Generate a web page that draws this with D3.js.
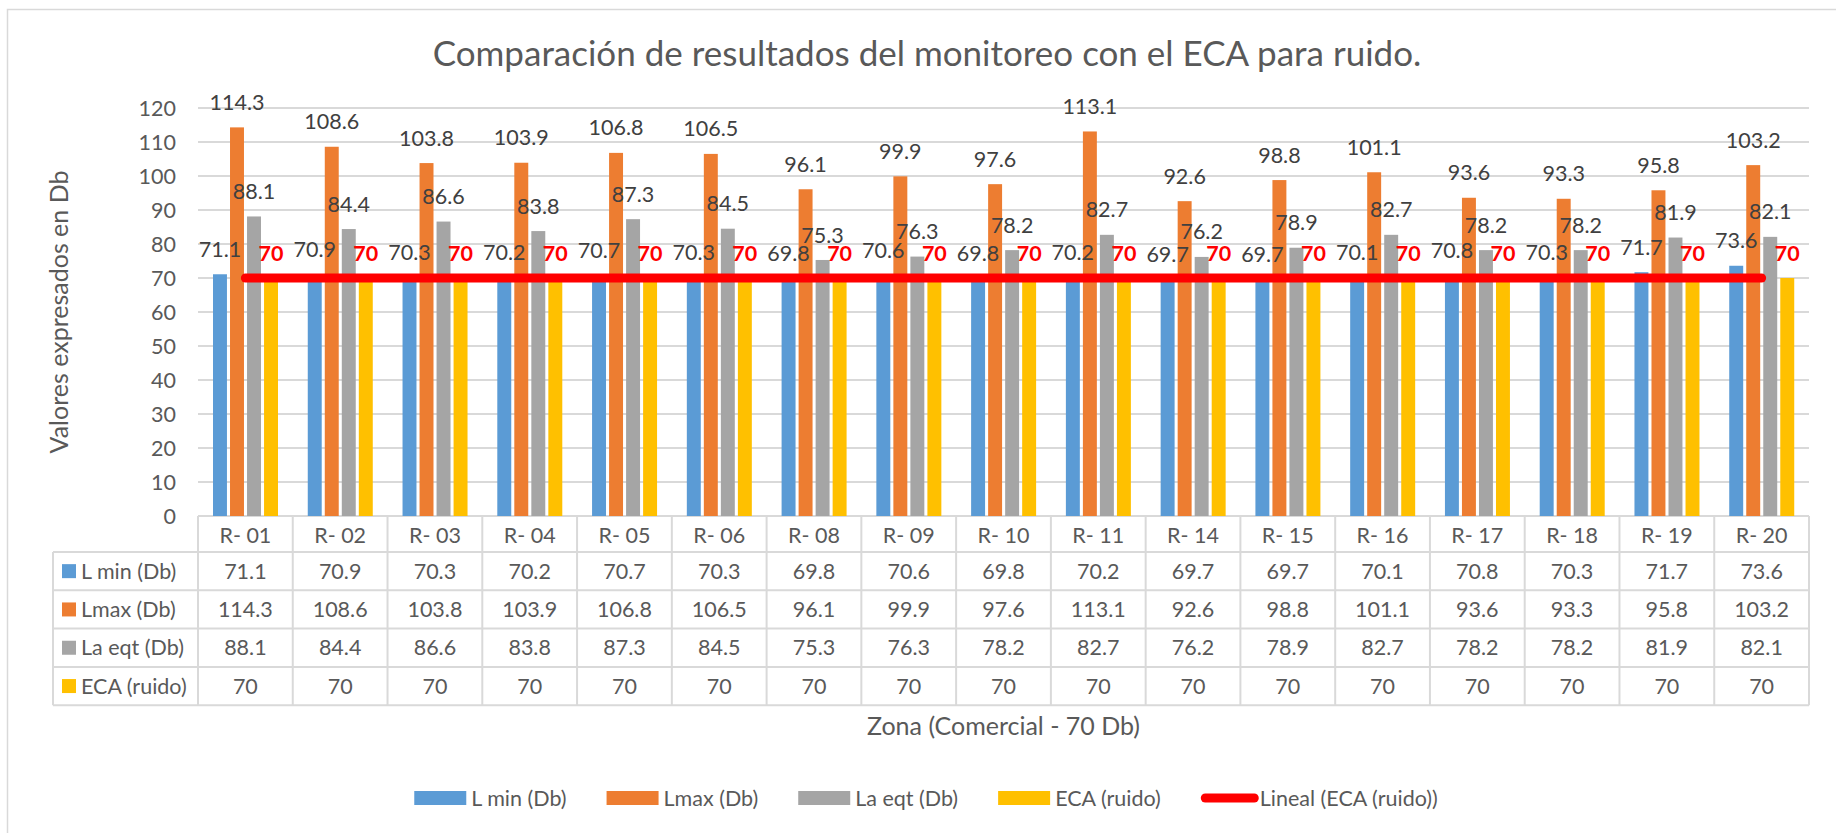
<!DOCTYPE html>
<html>
<head>
<meta charset="utf-8">
<script src="https://cdn.jsdelivr.net/npm/d3@7"></script>
<style>
  body { margin: 0; background: #fff; }
  svg { display: block; font-family: Lato, "Open Sans", sans-serif; }
</style>
</head>
<body>
<svg id="chart" width="1836" height="833"></svg>
<script>
const categories = ["R- 01", "R- 02", "R- 03", "R- 04", "R- 05", "R- 06", "R- 08", "R- 09", "R- 10",
                    "R- 11", "R- 14", "R- 15", "R- 16", "R- 17", "R- 18", "R- 19", "R- 20"]
const lmin  = [71.1, 70.9, 70.3, 70.2, 70.7, 70.3, 69.8, 70.6, 69.8, 70.2, 69.7, 69.7, 70.1, 70.8, 70.3, 71.7, 73.6]
const lmax  = [114.3, 108.6, 103.8, 103.9, 106.8, 106.5, 96.1, 99.9, 97.6, 113.1, 92.6, 98.8, 101.1, 93.6, 93.3, 95.8, 103.2]
const laeqt = [88.1, 84.4, 86.6, 83.8, 87.3, 84.5, 75.3, 76.3, 78.2, 82.7, 76.2, 78.9, 82.7, 78.2, 78.2, 81.9, 82.1]
const eca   = [70, 70, 70, 70, 70, 70, 70, 70, 70, 70, 70, 70, 70, 70, 70, 70, 70]
const seriesNames = ["L min (Db)", "Lmax (Db)", "La eqt (Db)", "ECA (ruido)"]
const yTicks = [0, 10, 20, 30, 40, 50, 60, 70, 80, 90, 100, 110, 120]

const series = [
  {name: seriesNames[0], values: lmin,  color: "#5B9BD5"},
  {name: seriesNames[1], values: lmax,  color: "#ED7D31"},
  {name: seriesNames[2], values: laeqt, color: "#A5A5A5"},
  {name: seriesNames[3], values: eca,   color: "#FFC000"},
]

const dims = {width: 1836, height: 833, left: 198, right: 1809, top: 108, bottom: 516}
const tableLeft = 53
const headerBottom = 552
const rowH = 38.3
const grid = "#D9D9D9"
const textGray = "#595959"
const fs = "21.5px"

const svg = d3.select("#chart")

// chart border (only left and top edges are in frame)
svg.append("rect")
  .attr("x", 7.5).attr("y", 9.5)
  .attr("width", 1900).attr("height", 900)
  .attr("fill", "none").attr("stroke", grid).attr("stroke-width", 1.5)

const x0 = d3.scaleBand().domain(categories).range([dims.left, dims.right])
const x1 = d3.scaleBand().domain(seriesNames).range([15, 80]).paddingInner(0.18)
const y = d3.scaleLinear().domain([0, 120]).range([dims.bottom, dims.top])

// gridlines
svg.append("g")
  .selectAll("line")
  .data(yTicks)
  .enter()
  .append("line")
  .attr("x1", dims.left).attr("x2", dims.right)
  .attr("y1", d => y(d)).attr("y2", d => y(d))
  .attr("stroke", grid).attr("stroke-width", 2)

// y tick labels
svg.append("g")
  .selectAll("text")
  .data(yTicks)
  .enter()
  .append("text")
  .attr("x", 176)
  .attr("y", d => y(d))
  .attr("dy", "0.35em")
  .attr("text-anchor", "end")
  .attr("font-size", fs)
  .attr("fill", textGray)
  .text(d => d)

// bars
const groups = svg.append("g")
  .selectAll("g")
  .data(series)
  .enter()
  .append("g")
  .attr("fill", d => d.color)

groups.selectAll("rect")
  .data(s => s.values.map((v, i) => ({name: s.name, cat: categories[i], v: v})))
  .enter()
  .append("rect")
  .attr("x", d => x0(d.cat) + x1(d.name))
  .attr("width", x1.bandwidth())
  .attr("y", d => y(d.v))
  .attr("height", d => y(0) - y(d.v))

// linear trendline of ECA (least squares over category index)
const idx = eca.map((v, i) => i + 1)
const mx = d3.mean(idx), my = d3.mean(eca)
const slope = d3.sum(idx, (t, i) => (t - mx) * (eca[i] - my)) / d3.sum(idx, t => (t - mx) * (t - mx))
const icpt = my - slope * mx
const trend = [idx[0], idx[idx.length - 1]].map(t => ({cat: categories[t - 1], v: icpt + slope * t}))

svg.append("path")
  .datum(trend)
  .attr("d", d3.line().x(d => x0(d.cat) + x0.bandwidth() / 2).y(d => y(d.v)))
  .attr("stroke", "#FF0000")
  .attr("stroke-width", 9)
  .attr("stroke-linecap", "round")
  .attr("fill", "none")

// data labels
series.forEach((s, si) => {
  svg.append("g")
    .selectAll("text")
    .data(s.values)
    .enter()
    .append("text")
    .attr("x", (d, i) => x0(categories[i]) + x1(s.name) + x1.bandwidth() / 2)
    .attr("y", d => y(d) - 25)
    .attr("dy", "0.35em")
    .attr("text-anchor", "middle")
    .attr("font-size", fs)
    .attr("font-weight", si == 3 ? "bold" : "normal")
    .attr("fill", si == 3 ? "#FF0000" : "#404040")
    .text(d => d)
})

// data table
const table = svg.append("g")
const rowY = i => headerBottom + i * rowH
const tableBottom = rowY(series.length)

series.concat([null]).forEach((s, i) => {
  table.append("line")
    .attr("x1", tableLeft).attr("x2", dims.right)
    .attr("y1", rowY(i)).attr("y2", rowY(i))
    .attr("stroke", grid).attr("stroke-width", 2)
})
table.append("line")
  .attr("x1", tableLeft).attr("x2", tableLeft)
  .attr("y1", headerBottom).attr("y2", tableBottom)
  .attr("stroke", grid).attr("stroke-width", 2)
table.selectAll(".vline")
  .data(categories.map(c => x0(c)).concat([dims.right]))
  .enter()
  .append("line")
  .attr("x1", d => d).attr("x2", d => d)
  .attr("y1", dims.bottom).attr("y2", tableBottom)
  .attr("stroke", grid).attr("stroke-width", 2)

table.selectAll(".head")
  .data(categories)
  .enter()
  .append("text")
  .attr("x", d => x0(d) + x0.bandwidth() / 2)
  .attr("y", (dims.bottom + headerBottom) / 2 + 1)
  .attr("dy", "0.35em")
  .attr("text-anchor", "middle")
  .attr("font-size", fs)
  .attr("fill", textGray)
  .text(d => d)

series.forEach((s, i) => {
  const cy = rowY(i) + rowH / 2
  table.append("rect")
    .attr("x", 62).attr("y", cy - 7)
    .attr("width", 14).attr("height", 14)
    .attr("fill", s.color)
  table.append("text")
    .attr("x", 81).attr("y", cy)
    .attr("dy", "0.35em")
    .attr("font-size", fs)
    .attr("fill", textGray)
    .text(s.name)
  table.append("g")
    .selectAll("text")
    .data(s.values)
    .enter()
    .append("text")
    .attr("x", (d, j) => x0(categories[j]) + x0.bandwidth() / 2)
    .attr("y", cy)
    .attr("dy", "0.35em")
    .attr("text-anchor", "middle")
    .attr("font-size", fs)
    .attr("fill", textGray)
    .text(d => d)
})

// titles
svg.append("text")
  .text("Comparación de resultados del monitoreo con el ECA para ruido.")
  .attr("x", 927).attr("y", 66)
  .attr("text-anchor", "middle")
  .attr("font-size", "35px")
  .attr("fill", textGray)

svg.append("text")
  .text("Valores expresados en Db")
  .attr("transform", "translate(68," + (dims.top + dims.bottom) / 2 + ") rotate(-90)")
  .attr("text-anchor", "middle")
  .attr("font-size", "25px")
  .attr("fill", textGray)

svg.append("text")
  .text("Zona (Comercial - 70 Db)")
  .attr("x", (dims.left + dims.right) / 2).attr("y", 735)
  .attr("text-anchor", "middle")
  .attr("font-size", "25px")
  .attr("fill", textGray)

// legend
const legendItems = series.map(s => ({name: s.name, color: s.color, line: false}))
  .concat([{name: "Lineal (ECA (ruido))", color: "#FF0000", line: true}])
const legend = svg.append("g")
let lx = 0
legendItems.forEach(item => {
  const g = legend.append("g").attr("transform", "translate(" + lx + ",0)")
  if (item.line) {
    g.append("line").attr("x1", 4.5).attr("x2", 53.5).attr("y1", 0).attr("y2", 0)
      .attr("stroke", item.color).attr("stroke-width", 9).attr("stroke-linecap", "round")
  } else {
    g.append("rect").attr("x", 0).attr("y", -7).attr("width", 52).attr("height", 14).attr("fill", item.color)
  }
  const t = g.append("text")
    .attr("x", item.line ? 59 : 57).attr("y", 0)
    .attr("dy", "0.35em")
    .attr("font-size", fs)
    .attr("fill", textGray)
    .text(item.name)
  lx += (item.line ? 59 : 57) + t.node().getComputedTextLength() + 40
})
const legendW = lx - 40
legend.attr("transform", "translate(" + (926 - legendW / 2) + ",798)")
</script>
</body>
</html>
